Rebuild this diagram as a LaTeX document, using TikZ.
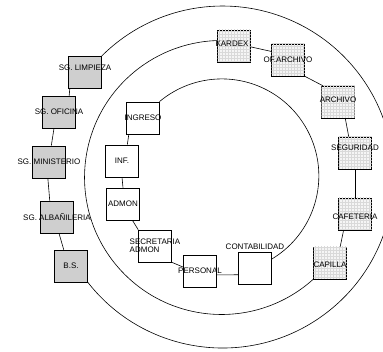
\documentclass[tikz,border=0pt]{standalone}
\usepackage{fontspec}
\setmainfont{Liberation Sans}
\usetikzlibrary{patterns}

\begin{document}
\begin{tikzpicture}[x=1pt,y=1pt,
    caja/.style={draw, line width=0.6pt, minimum width=33pt, minimum height=32pt, inner sep=0pt},
    cajagris/.style={caja, fill=grisCaja},
    cajamalla/.style={caja, fill=gray!8, postaction={pattern=grid, pattern color=gray!30}},
    every label/.style={font=\fontsize{8}{8.5}\selectfont, inner sep=0pt},
    every path/.style={line width=0.6pt}]
                \def\cx{222}
                \def\cy{175}
                \colorlet{grisCaja}{gray!38}
                \useasboundingbox (0,0) rectangle (383,352);
                % anillo exterior
                \node[cajagris, label={[yshift=4pt]center:SG. LIMPIEZA}] (limp) at (85,280) {};
                \node[cajagris, label={center:SG. OFICINA}] (ofic) at (59,240) {};
                \node[cajagris, label={center:SG. MINISTERIO}] (mini) at (49,190) {};
                \node[cajagris, label={center:SG. ALBAÑILERIA}] (alba) at (57,135) {};
                \node[cajagris, label={center:B.S.}] (bs) at (71,86) {};
                % anillo medio
                \node[cajamalla, label={[xshift=-2pt,yshift=2pt]center:KARDEX}] (kard) at (234,306) {};
                \node[cajamalla, label={center:OF.ARCHIVO}] (ofa) at (288,292) {};
                \node[cajamalla, label={[yshift=2pt]center:ARCHIVO}] (arch) at (338,250) {};
                \node[cajamalla, label={[yshift=5pt]center:SEGURIDAD}] (segu) at (355,199) {};
                \node[cajamalla, label={[yshift=-3pt]center:CAFETERIA}] (cafe) at (355,138) {};
                \node[cajamalla, label={[yshift=-2pt]center:CAPILLA}] (capi) at (330,89) {};
                % anillo interior
                \node[caja, fill=white, label={center:INGRESO}] (ingr) at (143,234) {};
                \node[caja, label={center:INF.}] (inf) at (122,191) {};
                \node[caja, label={center:ADMON}] (admon) at (123,148) {};
                \node[caja, label={[align=left]center:SECRETARIA\\ADMON}] (secr) at (155,106) {};
                \node[caja, label={center:PERSONAL}] (pers) at (200,81) {};
                \node[caja, label={[yshift=2pt]above:CONTABILIDAD}] (cont) at (255,84) {};
                % cadenas
                \draw (limp.227) -- (ofic.58);
                \draw (ofic.253) -- (mini.82);
                \draw (mini.266) -- (alba.114);
                \draw (alba.277) -- (bs.114);
                \draw (kard.357) -- (ofa.153);
                \draw (ofa.south east) -- (arch.133);
                \draw (arch.294) -- (segu.111);
                \draw (segu.south) -- (cafe.north);
                \draw (cafe.235) -- (capi.58);
                \draw (ingr.229) -- (inf.72);
                \draw (inf.south) -- (admon.north);
                \draw (admon.300) -- (secr.north west);
                \draw (secr.south east) -- (pers.167);
                \draw (pers.347) -- (cont.202);
                % arcos
                \draw (bs.south east) arc[start angle=218, end angle=495, radius=171];
                \draw (capi.south west) arc[start angle=-48, end angle=-268, radius=137];
                \draw (cont.28) arc[start angle=-59, end angle=130, radius=97];
              \end{tikzpicture}
\end{document}
